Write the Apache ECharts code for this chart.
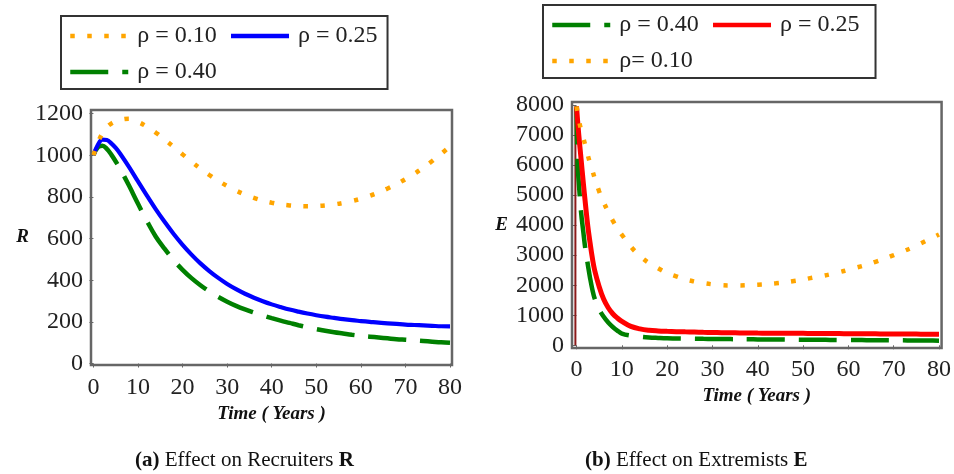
<!DOCTYPE html>
<html>
<head>
<meta charset="utf-8">
<script src="https://cdn.jsdelivr.net/npm/echarts@6/dist/echarts.min.js"></script>
<style>
  html, body { margin: 0; padding: 0; background: #fff; }
  #wrap { width: 954px; height: 474px; display: flex; }
  .pane { width: 477px; height: 474px; }
</style>
</head>
<body>
<div id="wrap">
  <div id="chartR" class="pane"></div>
  <div id="chartE" class="pane"></div>
</div>
<script>
// time grid, years
const timeR = [0, 1, 2, 3, 4, 5, 6, 8, 10, 12, 14, 16, 18, 20, 22, 24, 26, 28, 30, 32, 34, 36, 38, 40,
  42, 44, 46, 48, 50, 52, 54, 56, 58, 60, 62, 64, 66, 68, 70, 72, 74, 76, 78, 80]
// recruiters R
const recruitRho010 = [1000, 1060, 1105, 1135, 1152, 1163, 1170, 1175, 1160, 1137, 1108, 1075, 1040, 1004, 969, 936,
  905, 877, 852, 830, 811, 795, 782, 772, 764, 759, 756, 755, 756, 759, 764, 771, 780, 791, 805, 821,
  840, 861, 885, 911, 940, 972, 1006, 1043]
const recruitRho025 = [1000, 1050, 1075, 1073, 1057, 1035, 1007, 943, 874, 806, 740, 679, 622, 570, 523, 481,
  444, 411, 382, 357, 335, 316, 299, 284, 271, 259, 249, 240, 232, 225, 219, 213, 208, 204, 200, 196,
  193, 190, 187, 185, 183, 181, 179, 178]
const recruitRho040 = [1000, 1038, 1046, 1030, 1003, 970, 934, 853, 767, 684, 609, 550, 496, 450, 410, 376,
  346, 320, 297, 277, 260, 245, 231, 218, 206, 195, 184, 174, 165, 157, 150, 144, 138, 133, 129, 125,
  121, 117, 114, 111, 108, 105, 102, 100]

const timeE = [0, 0.25, 0.5, 1, 1.5, 2, 2.5, 3, 3.5, 4, 5, 6, 7, 8, 9, 10, 12, 14, 16, 18, 20, 22, 24, 26,
  28, 30, 32, 34, 36, 38, 40, 42, 44, 46, 48, 50, 52, 54, 56, 58, 60, 62, 64, 66, 68, 70, 72, 74, 76, 78, 80]
// extremists E
const extremRho040 = [7950, 6000, 5420, 4440, 3770, 3150, 2680, 2230, 1850, 1560, 1200, 950, 760, 610, 490, 390,
  320, 285, 260, 245, 233, 228, 223, 219, 215, 212, 209, 206, 203, 200, 197, 195, 193, 190, 188, 186,
  184, 182, 180, 178, 176, 174, 172, 170, 168, 166, 164, 162, 160, 157, 155]
const extremRho025 = [7950, 7450, 7000, 6200, 5400, 4650, 3950, 3400, 2900, 2500, 1950, 1530, 1250, 1050, 910, 800,
  630, 545, 500, 478, 465, 455, 447, 440, 432, 425, 420, 416, 412, 409, 406, 404, 402, 400, 399, 397,
  395, 393, 391, 389, 387, 385, 383, 381, 379, 377, 375, 373, 371, 369, 367]
const extremRho010 = [7950, 7720, 7510, 7176, 6900, 6620, 6320, 6058, 5818, 5570, 5120, 4757, 4440, 4150, 3900, 3680,
  3282, 2968, 2740, 2564, 2405, 2296, 2195, 2125, 2070, 2030, 2002, 1994, 1993, 2003, 2018, 2036, 2062, 2096, 2140, 2185,
  2247, 2300, 2362, 2435, 2515, 2597, 2680, 2780, 2886, 3000, 3122, 3248, 3391, 3541, 3690]
// thin vertical trace at t = 0 in panel (b)
const spikeT = [-0.25, -0.25]
const spikeE = [0, 7950]

const xTicks = [0, 10, 20, 30, 40, 50, 60, 70, 80]
const rTicks = [0, 200, 400, 600, 800, 1000, 1200]
const eTicks = [0, 1000, 2000, 3000, 4000, 5000, 6000, 7000, 8000]

const SERIF = 'Liberation Serif, Times New Roman, serif'
const ORANGE = '#FFA500'
const BLUE = '#0000FF'
const GREEN = '#008000'
const RED = '#FF0000'

function pairs (xs, ys) {
  return xs.map((x, i) => [x, ys[i]])
}

function lineSeries (name, color, xs, ys, style) {
  return {
    name: name,
    type: 'line',
    symbol: 'none',
    smooth: 0.4,
    data: pairs(xs, ys),
    itemStyle: { color: color },
    lineStyle: Object.assign({ color: color, width: 4.5, cap: 'butt' }, style)
  }
}

const dotted = { type: [4.5, 12.5] }
const dashed = { type: [38, 14] }
const solid = { type: 'solid', width: 4.2 }

const plain = v => String(v)

function xAxisCfg (min, max, labelMargin, nameGap) {
  return {
    type: 'value',
    min: min,
    max: max,
    name: 'Time ( Years )',
    nameLocation: 'middle',
    nameGap: nameGap,
    nameTextStyle: { fontFamily: SERIF, fontSize: 19, fontStyle: 'italic', fontWeight: 'bold', color: '#111' },
    axisLine: { show: false },
    axisTick: { show: true, inside: false, length: 4, customValues: xTicks, lineStyle: { color: '#666', width: 1 } },
    axisLabel: { customValues: xTicks, formatter: plain, margin: labelMargin, fontFamily: SERIF, fontSize: 24, color: '#222' },
    splitLine: { show: false }
  }
}

function yAxisCfg (name, min, max, ticks, nameGap) {
  return {
    type: 'value',
    min: min,
    max: max,
    name: name,
    nameLocation: 'middle',
    nameRotate: 0,
    nameGap: nameGap,
    nameTextStyle: { fontFamily: SERIF, fontSize: 19, fontStyle: 'italic', fontWeight: 'bold', color: '#111' },
    axisLine: { show: false },
    axisTick: { show: true, inside: false, length: 4, customValues: ticks, lineStyle: { color: '#666', width: 1 } },
    axisLabel: { customValues: ticks, formatter: plain, margin: 8, fontFamily: SERIF, fontSize: 24, color: '#222' },
    splitLine: { show: false }
  }
}

function legendCfg (left, top, names, padRight) {
  return {
    left: left,
    top: top,
    width: 320,
    data: names,
    itemWidth: 58,
    itemHeight: 14,
    itemGap: 12,
    padding: [8, padRight, 5, 7],
    borderColor: '#333',
    borderWidth: 2,
    selectedMode: false,
    // hide the marker dot, keep only the line sample
    itemStyle: { opacity: 0 },
    lineStyle: { width: 4.5, opacity: 1 },
    textStyle: { fontFamily: SERIF, fontSize: 24, color: '#222', padding: [0, 0, 0, 4] }
  }
}

function caption (left, top, text) {
  return {
    type: 'text',
    left: left,
    top: top,
    style: {
      text: text,
      font: '21px ' + SERIF,
      fill: '#111',
      rich: {
        b: { font: 'bold 21px ' + SERIF, fill: '#111' }
      }
    }
  }
}

const chartR = echarts.init(document.getElementById('chartR'))
chartR.setOption({
  animation: false,
  grid: { left: 91, right: 25, top: 110, bottom: 109, show: true, borderColor: '#666', borderWidth: 2.5 },
  legend: legendCfg(61, 16, ['ρ = 0.10', 'ρ = 0.25', 'ρ = 0.40'], 10),
  xAxis: xAxisCfg(-0.55, 80.45, 11, 36),
  yAxis: yAxisCfg('R', -7, 1217, rTicks, 62),
  graphic: [caption(135, 450, '{b|(a)} Effect on Recruiters {b|R}')],
  series: [
    lineSeries('ρ = 0.40', GREEN, timeR, recruitRho040, dashed),
    lineSeries('ρ = 0.25', BLUE, timeR, recruitRho025, solid),
    lineSeries('ρ = 0.10', ORANGE, timeR, recruitRho010, dotted)
  ]
})

const chartE = echarts.init(document.getElementById('chartE'))
chartE.setOption({
  animation: false,
  grid: { left: 95, right: 12, top: 102, bottom: 126, show: true, borderColor: '#666', borderWidth: 2.5 },
  legend: legendCfg(66, 5, ['ρ = 0.40', 'ρ = 0.25', 'ρ= 0.10'], 16),
  xAxis: xAxisCfg(-1.0, 80.57, 10, 38),
  yAxis: yAxisCfg('E', -90, 8100, eTicks, 64),
  graphic: [caption(108, 450, '{b|(b)} Effect on Extremists {b|E}')],
  series: [
    {
      name: 'spike',
      type: 'line',
      symbol: 'none',
      data: pairs(spikeT, spikeE),
      lineStyle: { color: '#8B1A1A', width: 2 }
    },
    lineSeries('ρ = 0.40', GREEN, timeE, extremRho040, dashed),
    lineSeries('ρ = 0.25', RED, timeE, extremRho025, { type: 'solid', width: 5 }),
    lineSeries('ρ= 0.10', ORANGE, timeE, extremRho010, dotted)
  ]
})

window.addEventListener('resize', function () {
  chartR.resize()
  chartE.resize()
})
</script>
</body>
</html>
